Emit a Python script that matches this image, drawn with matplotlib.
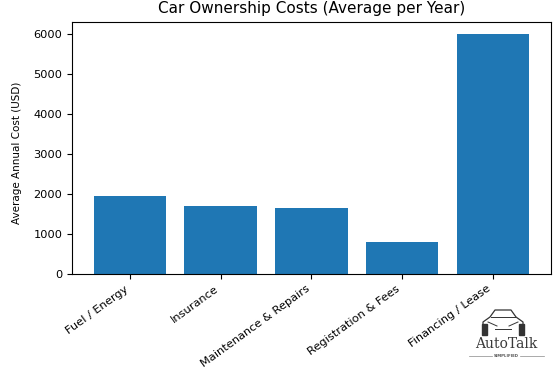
import matplotlib
matplotlib.use("Agg")
import matplotlib.pyplot as plt
from matplotlib.lines import Line2D
from matplotlib.patches import Polygon

categories = ["Fuel / Energy", "Insurance", "Maintenance & Repairs",
              "Registration & Fees", "Financing / Lease"]
costs = [1950, 1700, 1650, 800, 6000]

W, H = 560, 373
fig = plt.figure(figsize=(W / 100, H / 100), dpi=100)
ax = fig.add_axes([0.1286, 0.2654, 0.855, 0.6764])

ax.bar(categories, costs, color="#1f77b4")
ax.set_title("Car Ownership Costs (Average per Year)", fontsize=11)
ax.set_ylabel("Average Annual Cost (USD)", fontsize=7.5)
ax.yaxis.set_label_coords(-0.105, 0.48)
ax.tick_params(labelsize=8.2)
plt.setp(ax.get_xticklabels(), rotation=36, ha="right")


def px(x, y):
    # pixel coords (top-left origin) -> figure fraction
    return x / W, 1 - y / H


# watermark logo, bottom right
fig.text(*px(506, 344), "AutoTalk", family="DejaVu Serif", fontsize=10,
         ha="center", va="center", color="#3a3a3a")
fig.text(*px(506, 356), "SIMPLIFIED", fontsize=2.8, ha="center", va="center",
         color="#555555", fontweight="bold")
for x0, x1 in [(469, 492), (520, 544)]:
    xs, ys = zip(px(x0, 356), px(x1, 356))
    fig.add_artist(Line2D(xs, ys, lw=0.5, color="#888888"))

# simple front view of a sports car
body = [(483, 334), (483, 322), (490, 317), (495, 310), (511, 310),
        (516, 317), (523, 322), (523, 334)]
xs, ys = zip(*[px(x, y) for x, y in body])
fig.add_artist(Line2D(xs, ys, lw=0.9, color="#333333"))
for wx in (482, 519):
    fig.add_artist(Polygon([px(wx, 324), px(wx + 5, 324), px(wx + 5, 335),
                            px(wx, 335)], closed=True, color="#333333",
                           transform=fig.transFigure))
for seg in [[(488, 322), (497, 326)], [(518, 322), (509, 326)],
            [(495, 329), (511, 329)], [(491, 317), (515, 317)]]:
    xs, ys = zip(*[px(x, y) for x, y in seg])
    fig.add_artist(Line2D(xs, ys, lw=0.7, color="#333333"))

fig.savefig("out.png", dpi=100)
